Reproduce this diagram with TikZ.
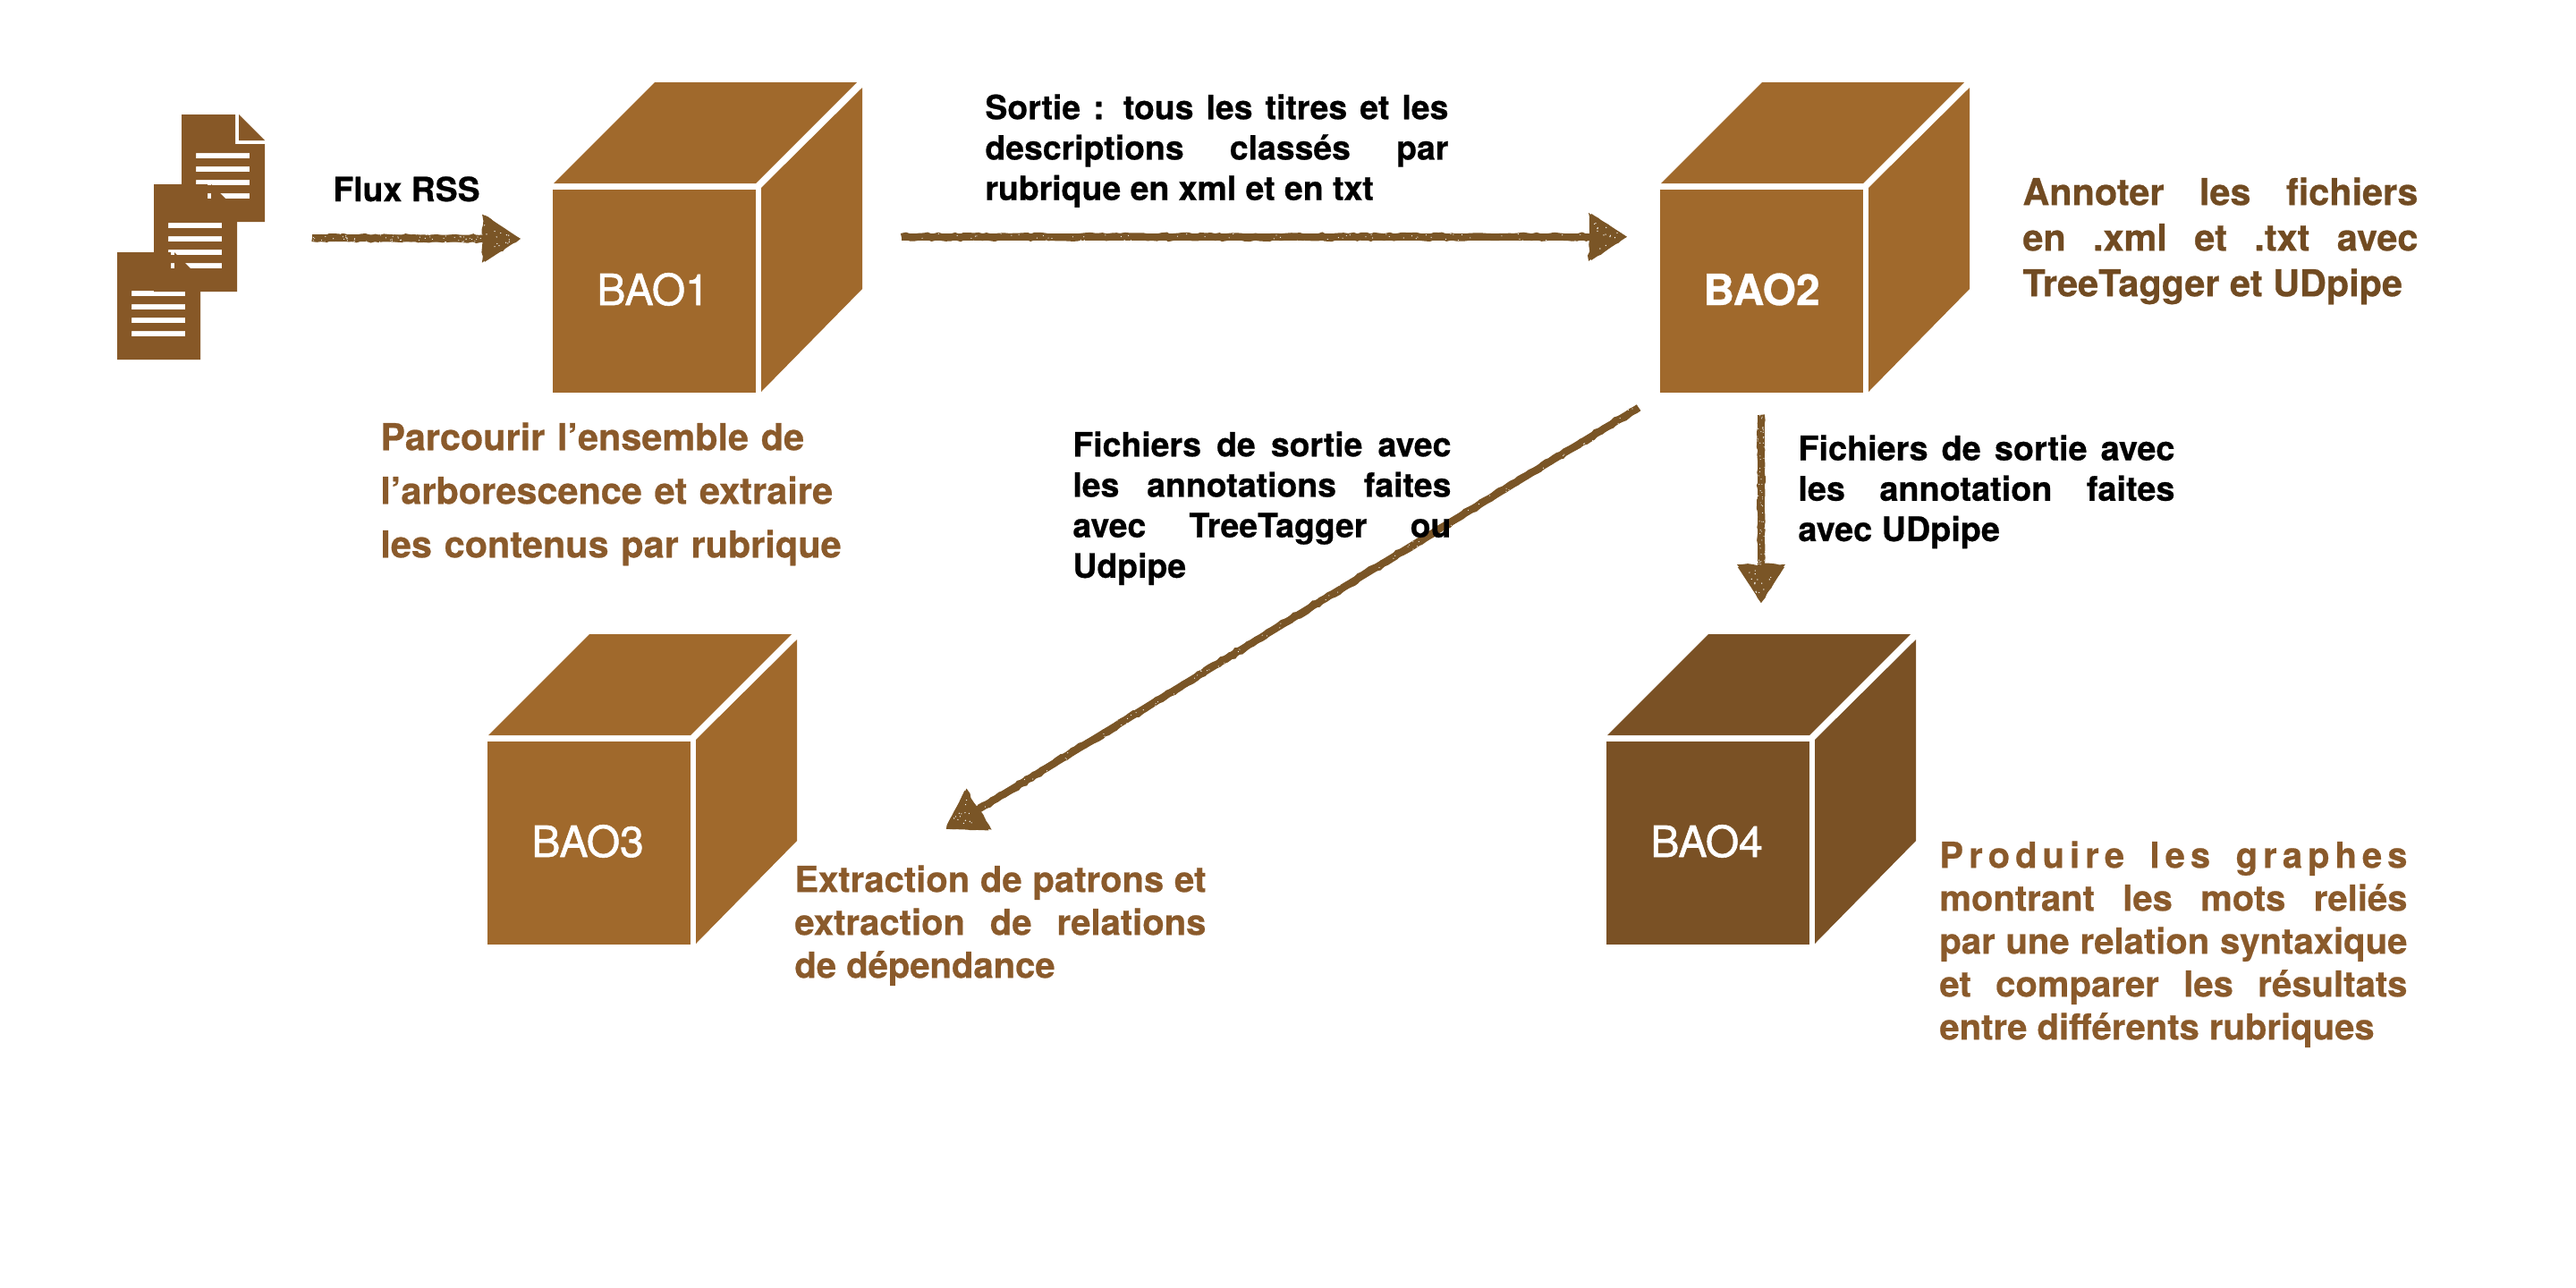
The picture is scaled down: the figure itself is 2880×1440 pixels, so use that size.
\documentclass[tikz,border=0pt]{standalone}
\usepackage{fontspec}
\setmainfont{TeX Gyre Heros}[BoldFeatures={FakeBold=0.6}]
\newfontfamily\medfont{TeX Gyre Heros}[FakeBold=1.2]
\usetikzlibrary{calc,arrows.meta,decorations.pathmorphing}
\definecolor{cubec}{HTML}{A0692C}
\definecolor{cubed}{HTML}{7A5125}
\definecolor{docc}{HTML}{875827}
\definecolor{arrowc}{HTML}{7A5526}
\definecolor{textb}{HTML}{8A5A2B}
\definecolor{textd}{HTML}{714B22}
\tikzset{
  face/.style={fill=#1,draw=none,inner sep=0pt,minimum width=113.5pt,minimum height=113.5pt,anchor=north west},
  baolab/.style={anchor=base west,inner sep=0pt,text=white,font=\medfont\fontsize{24}{24}\selectfont},
  txt/.style={anchor=north west,inner sep=0pt,align=justify,font=\bfseries\fontsize{#1}{22.6}\selectfont},
  conn/.style={draw=arrowc,line width=4pt,-{Triangle[length=20pt,width=25pt]}},
  roughshaft/.style={draw=arrowc,line width=4pt,decorate,decoration={random steps,segment length=2.5pt,amplitude=0.6pt}},
  roughhead/.style={fill=arrowc,decorate,decoration={random steps,segment length=3pt,amplitude=0.7pt}}
}
\newcommand{\cubesides}[3]{% x y colour
  \fill[#3] (#1+1,#2-7) -- (#1+114,#2-120) -- (#1+340,#2-120) -- (#1+227,#2-7) -- cycle;
  \fill[#3] (#1+233,#2-2) -- (#1+346,#2-114) -- (#1+346,#2+111) -- (#1+233,#2+226) -- cycle;
}
\newcommand{\docicon}[2]{%
  \fill[docc,even odd rule]
    (#1,#2) -- (#1+60,#2) -- (#1+60,#2+33) -- (#1+93,#2+33) -- (#1+93,#2+120) -- (#1,#2+120) -- cycle
    (#1+16,#2+43) rectangle (#1+76,#2+49)
    (#1+16,#2+58) rectangle (#1+76,#2+64)
    (#1+16,#2+73) rectangle (#1+76,#2+79)
    (#1+16,#2+88) rectangle (#1+76,#2+94);
  \fill[docc] (#1+64,#2) -- (#1+93,#2+29) -- (#1+64,#2+29) -- cycle;
}
\newcommand{\chalkarrow}[2]{%
  \draw[conn] (#1) -- (#2);
  \coordinate (hb) at ($(#2)!21.5pt!(#1)$);
  \path[roughshaft] (#1) -- (hb);
  \path[roughhead] ($(hb)!13.5pt!90:(#2)$) -- (#2) -- ($(hb)!13.5pt!-90:(#2)$) -- cycle;
  \foreach \i in {1,...,14}{%
    \pgfmathsetmacro\u{0.25+0.7*rnd}
    \pgfmathsetmacro\v{(rnd-0.5)*20*\u}
    \fill[white] ($(#2)!\u*21.5pt!(hb)!\v pt!90:(hb)$) circle (0.35pt);
  }
  \foreach \i in {1,...,70}{%
    \pgfmathsetmacro\u{rnd}
    \pgfmathsetmacro\v{(rnd-0.5)*5}
    \fill[white] ($(#1)!\u!(hb)!\v pt!90:(hb)$) circle (0.3pt);
  }
}
\newcommand{\jset}{\hyphenpenalty=10000 \tolerance=9999 }
\begin{document}
\begin{tikzpicture}[x=0.5pt,y=-0.5pt]
\pgfmathsetseed{42}
\useasboundingbox (0,0) rectangle (2880,1440);
% documents
\docicon{203}{128}
\docicon{172}{206}
\docicon{131}{282}
% cubes
\cubesides{618}{212}{cubec}
\node[face=cubec] (bao1) at (618,212) {};
\node[baolab] (bao1t) at (667,341) {BAO1};
\cubesides{1856}{212}{cubec}
\node[face=cubec] (bao2) at (1856,212) {};
\node[baolab,font=\bfseries\fontsize{24}{24}\selectfont] (bao2t) at (1904,341) {BAO2};
\cubesides{545}{829}{cubec}
\node[face=cubec] (bao3) at (545,829) {};
\node[baolab] (bao3t) at (594,958) {BAO3};
\cubesides{1796}{829}{cubed}
\node[face=cubed] (bao4) at (1796,829) {};
\node[baolab] (bao4t) at (1845,958) {BAO4};
% connector ends
\coordinate (fluxstart) at (349,266);
\coordinate (a1e) at ($(bao1.west)+(-36,-59)$);
\coordinate (a2s) at ($(bao1.east)+(162,-61)$);
\coordinate (a2e) at ($(bao2.west)+(-37,-61)$);
\coordinate (a3s) at ($(bao2.south)+(-1,24)$);
\coordinate (a3e) at ($(bao4.north)+(59,-155)$);
\coordinate (a4s) at ($(bao2.south)+(-138,16)$);
\coordinate (a4e) at ($(bao3.east)+(285,-16)$);
\chalkarrow{fluxstart}{a1e}
\chalkarrow{a2s}{a2e}
\chalkarrow{a3s}{a3e}
\chalkarrow{a4s}{a4e}
% texts
\node[anchor=base west,inner sep=0pt,font=\bfseries\fontsize{18.7}{22}\selectfont] (flux) at (372,225) {Flux RSS};
\node[txt=18.7,text width=259pt] (sortie) at (1101,105) {\jset Sortie : tous les titres et les\break descriptions classés par\break rubrique en xml et en txt};
\node[txt=18.7,text width=211.5pt] (fich1) at (1199,482) {\jset Fichiers de sortie avec\break les annotations faites\break avec TreeTagger ou\break Udpipe};
\node[txt=18.9,text width=210.5pt] (fich2) at (2010,486) {\jset Fichiers de sortie avec\break les annotation faites\break avec UDpipe};
\node[txt=20.5,text=textd,text width=221pt,font=\bfseries\fontsize{20.7}{25.5}\selectfont] (annot) at (2261,198) {\jset Annoter les fichiers\break en .xml et .txt avec\break TreeTagger et UDpipe};
\node[txt=20.5,text=textb,text width=270pt,align=left,font=\bfseries\fontsize{20.7}{30}\selectfont] (parc) at (425,472) {Parcourir l’ensemble de\\l’arborescence et extraire\\les contenus par rubrique};
\node[txt=20,text=textb,text width=230pt,font=\bfseries\fontsize{20}{24}\selectfont] (extr) at (888,967) {\jset Extraction de patrons et\break extraction de relations\break de dépendance};
\node[txt=20,text=textb,text width=261.5pt,font=\bfseries\fontsize{20}{24}\selectfont] (prod) at (2168,940) {\jset {\addfontfeature{LetterSpace=15}Produire les graphes}\break montrant les mots reliés\break par une relation syntaxique\break et comparer les résultats\break entre différents rubriques};
\end{tikzpicture}
\end{document}
